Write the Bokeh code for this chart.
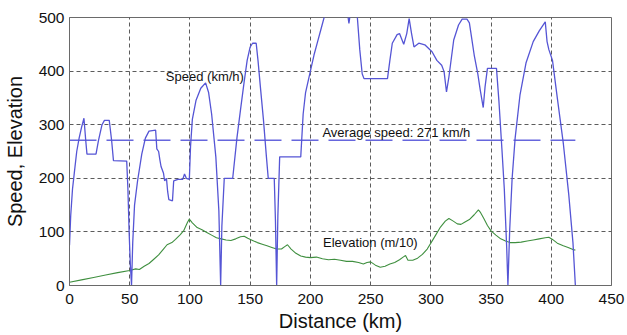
from bokeh.plotting import figure
from bokeh.models import Range1d, FixedTicker, Label
from bokeh.embed import file_html
from bokeh.resources import INLINE

# ---- data ----
speed_km = [0, 1, 2.5, 4, 6, 8, 10, 12, 13.5, 14.5, 22, 24, 27, 29, 33, 35, 36.5, 47.5, 48.5, 49.5, 50.5,
            51.5, 52.5, 54, 56.5, 60, 63, 66, 71.5, 72.5, 74, 75, 76, 78, 79, 80.5, 81.5, 82.5, 85.5,
            86.5, 90, 94, 95.5, 97, 99.5, 100.5, 102, 105, 109, 113, 115.5, 118, 121.5, 124, 125.5,
            126.5, 128.5, 135.5, 139, 142, 145, 147.5, 150, 152, 155, 156.5, 158.5, 161, 163.5, 165,
            170, 171, 172, 173, 174.5, 192, 194, 196, 200, 203, 206, 209, 212, 215, 225, 231, 232,
            233, 237, 239, 241, 243, 244.5, 264, 266, 268, 272, 274, 277.5, 280, 282, 284, 286, 290,
            295, 301, 305, 309, 311, 313, 315, 319, 323, 326, 330, 332, 334, 336, 339, 341, 343.5,
            345, 347, 354.5, 356.5, 359, 361, 363, 364, 365.5, 367.5, 370, 374, 379, 385, 390, 395,
            396.5, 398, 401, 405, 410, 414.5, 418, 420]
speed_val = [75, 130, 180, 210, 250, 275, 295, 312, 270, 245, 245, 270, 300, 308, 308, 270, 233, 232, 180, 100, 40,
             0, 80, 150, 195, 245, 275, 288, 290, 255, 250, 235, 222, 210, 195, 200, 175, 160, 158,
             195, 198, 198, 208, 200, 198, 260, 310, 345, 368, 378, 360, 320, 240, 140, 0,
             110, 200, 200, 275, 328, 380, 420, 445, 452, 452, 420, 370, 310, 240, 200,
             200, 120, 0, 130, 240, 240, 320, 360, 400, 430, 455, 480, 505, 520, 530, 505, 489,
             505, 520, 500, 440, 395, 386, 386, 420, 452, 468, 470, 450, 470, 498, 470, 445, 452,
             449, 436, 420, 411, 399, 361, 389, 458, 486, 497, 497, 490, 460, 430, 395, 365, 332,
             370, 405, 405, 345, 255, 180, 70, 0, 105, 200, 275, 355, 415, 455, 475, 492,
             455, 440, 420, 350, 265, 170, 80, 0]

elev_km = [0, 10, 20, 30, 40, 50, 55, 58, 62, 66, 70, 74, 78, 81, 85, 88, 92, 95, 98, 99.5, 102, 106,
           110, 114, 118, 122, 126, 130, 134, 138, 142, 145, 148, 152, 156, 160, 164, 168, 172, 176,
           179, 181, 184, 188, 192, 196, 200, 205, 210, 215, 220, 225, 230, 235, 240, 244, 247, 250,
           254, 258, 262, 266, 270, 274, 277, 279, 281, 285, 289, 293, 297, 300, 304, 308, 312, 315,
           318, 322, 325, 328, 332, 336, 339.5, 341, 344, 347, 350, 354, 358, 362, 366, 370, 375,
           380, 385, 390, 395, 398, 401, 405, 410, 414, 418, 420]
elev_val = [6, 10.5, 15, 19.5, 24, 28, 31, 30, 36, 41, 49, 57, 68, 76, 80, 86, 95, 103, 118, 124, 117, 108,
            104, 99, 94, 89, 87, 85, 84, 87, 91, 92, 88, 84, 80, 77, 74, 71, 68, 68,
            73, 76, 68, 60, 55, 53, 52, 53, 50, 48, 49, 47, 45, 45, 43, 40, 43, 44,
            38, 34, 36, 40, 43, 48, 53, 56, 47, 47, 51, 58, 68, 79, 94, 109, 120, 125,
            121, 115, 114, 118, 123, 132, 141, 137, 125, 112, 102, 94, 87, 83, 80, 80, 81,
            83, 85, 87, 89, 90, 86, 79, 74, 71, 67, 66]

avg_speed = 271
avg_span = [0, 420]
x_ticks = [0, 50, 100, 150, 200, 250, 300, 350, 400, 450]
y_ticks = [0, 100, 200, 300, 400, 500]

FONT = "Liberation Sans"

p = figure(width=627, height=335, output_backend="svg", toolbar_location=None,
           x_range=Range1d(0, 450), y_range=Range1d(0, 500),
           min_border_left=68, min_border_right=16, min_border_top=17, min_border_bottom=50)

p.background_fill_color = "white"
p.border_fill_color = "white"
p.outline_line_color = "#6a6a6a"
p.outline_line_width = 1

for ax in (p.xaxis[0], p.yaxis[0]):
    ax.major_label_text_font = FONT
    ax.major_label_text_font_size = "15.5px"
    ax.major_label_text_color = "#111111"
    ax.axis_label_text_font = FONT
    ax.axis_label_text_font_size = "20px"
    ax.axis_label_text_font_style = "normal"
    ax.axis_label_text_color = "#111111"
    ax.axis_line_color = "#6a6a6a"
    ax.major_tick_line_color = None
    ax.minor_tick_line_color = None
    ax.major_tick_out = 0
    ax.major_tick_in = 0

p.xaxis.ticker = FixedTicker(ticks=x_ticks)
p.yaxis.ticker = FixedTicker(ticks=y_ticks)
p.xaxis.axis_label = "Distance (km)"
p.yaxis.axis_label = "Speed, Elevation"
p.xaxis.major_label_standoff = 8
p.xaxis.axis_label_standoff = 3
p.yaxis.major_label_standoff = 5
p.yaxis.axis_label_standoff = 10

for g in (p.xgrid[0], p.ygrid[0]):
    g.grid_line_color = "#4a4a4a"
    g.grid_line_dash = "4 3"
    g.grid_line_width = 1
    g.grid_line_alpha = 0.9
p.xgrid.ticker = FixedTicker(ticks=x_ticks)
p.ygrid.ticker = FixedTicker(ticks=y_ticks)

p.line(avg_span, [avg_speed, avg_speed], line_color="#6666dd", line_width=1.3, line_dash="27 10")
p.line(elev_km, elev_val, line_color="#3f8f3f", line_width=1.1)
p.line(speed_km, speed_val, line_color="#5555d5", line_width=1.3)

for txt, x, y in [("Speed (km/h)", 80, 389),
                  ("Average speed: 271 km/h", 210, 286),
                  ("Elevation (m/10)", 210.5, 81)]:
    p.add_layout(Label(x=x, y=y, text=txt, text_font=FONT, text_font_size="13px",
                       text_color="#111111", text_align="left", text_baseline="middle"))

open("out.html", "w").write(file_html(p, INLINE))
